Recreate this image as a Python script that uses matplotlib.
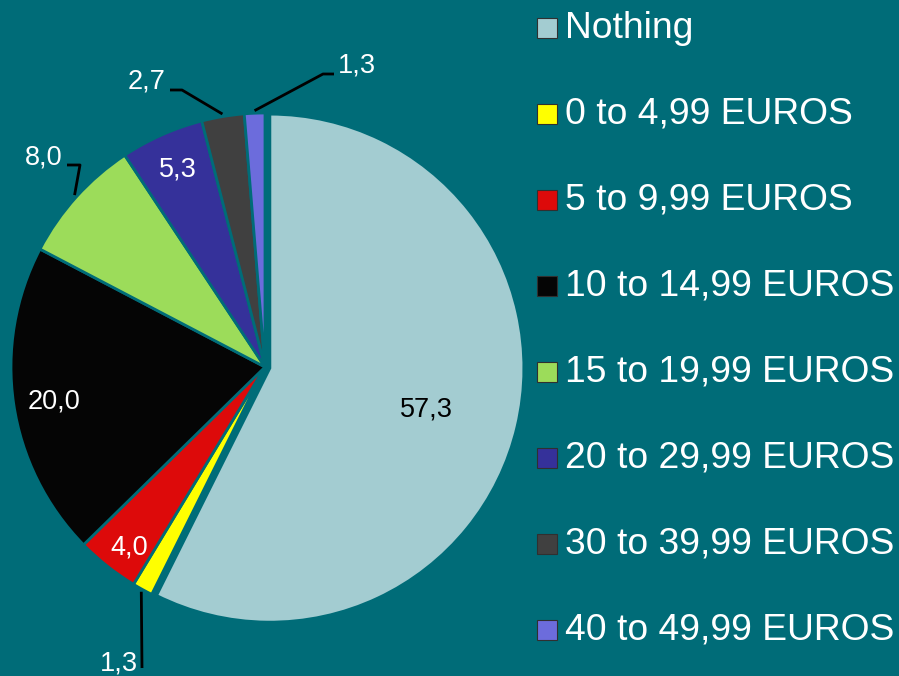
import numpy as np
import matplotlib
matplotlib.use("Agg")
import matplotlib.pyplot as plt
from matplotlib.patches import Rectangle

plt.rcParams['font.family'] = ['Liberation Sans', 'DejaVu Sans']

# datos
categorias = ['Nothing', '0 to 4,99 EUROS', '5 to 9,99 EUROS', '10 to 14,99 EUROS',
              '15 to 19,99 EUROS', '20 to 29,99 EUROS', '30 to 39,99 EUROS',
              '40 to 49,99 EUROS']
valores = [57.3, 1.3, 4.0, 20.0, 8.0, 5.3, 2.7, 1.3]
colores = ['#A3CCD1', '#FFFF00', '#DD0A0A', '#050505', '#9CDC5A', '#35319A',
           '#404040', '#6C6CDC']

fondo = '#006C78'

W, H = 899, 676
fig = plt.figure(figsize=(W / 100, H / 100), dpi=100, facecolor=fondo)
ax = fig.add_axes([0, 0, 1, 1])
ax.set_facecolor(fondo)

cx, cy, R = 265, H - 367, 254
# explode va en unidades de datos (pixeles aqui), solo "Nothing" separado
explode = [5, 0, 0, 0, 0, 0, 0, 0]
wedges, _ = ax.pie(valores, colors=colores, startangle=90, counterclock=False,
                   explode=explode, center=(cx, cy), radius=R,
                   wedgeprops=dict(edgecolor=fondo, linewidth=2))
ax.set_xlim(0, W)
ax.set_ylim(0, H)
ax.axis('off')

# etiquetas (posicion en pixeles, color, elbow del conector o None)
etiquetas = [
    ((426, 410), 'black', None),
    ((119, 663), 'white', [(142, 668)]),
    ((129, 547), 'white', None),
    ((54, 402), 'white', None),
    ((44, 157), 'white', [(67, 165), (80, 165)]),
    ((178, 169), 'white', None),
    ((147, 81), 'white', [(170, 90), (182, 90)]),
    ((357, 66), 'white', [(334, 74), (323, 74)]),
]

for w, v, (pos, col, elbow) in zip(wedges, valores, etiquetas):
    tx, ty = pos
    ax.text(tx, H - ty, ('%.1f' % v).replace('.', ','), color=col, fontsize=19.5,
            ha='center', va='center')
    if elbow is not None:
        ang = np.deg2rad((w.theta1 + w.theta2) / 2)
        ox, oy = w.center
        px = ox + R * 1.01 * np.cos(ang)
        py = oy + R * 1.01 * np.sin(ang)
        xs = [e[0] for e in elbow] + [px]
        ys = [H - e[1] for e in elbow] + [py]
        ax.plot(xs, ys, color='black', lw=2, solid_capstyle='butt')

# leyenda
y0, paso = 28, 86
for i, (cat, col) in enumerate(zip(categorias, colores)):
    yc = H - (y0 + i * paso)
    ax.add_patch(Rectangle((537, yc - 10), 20, 20, facecolor=col,
                           edgecolor='#303030', lw=0.8))
    ax.text(565, yc, cat, color='white', fontsize=26.8, ha='left', va='center')

fig.savefig('out.png', dpi=100, facecolor=fondo)
